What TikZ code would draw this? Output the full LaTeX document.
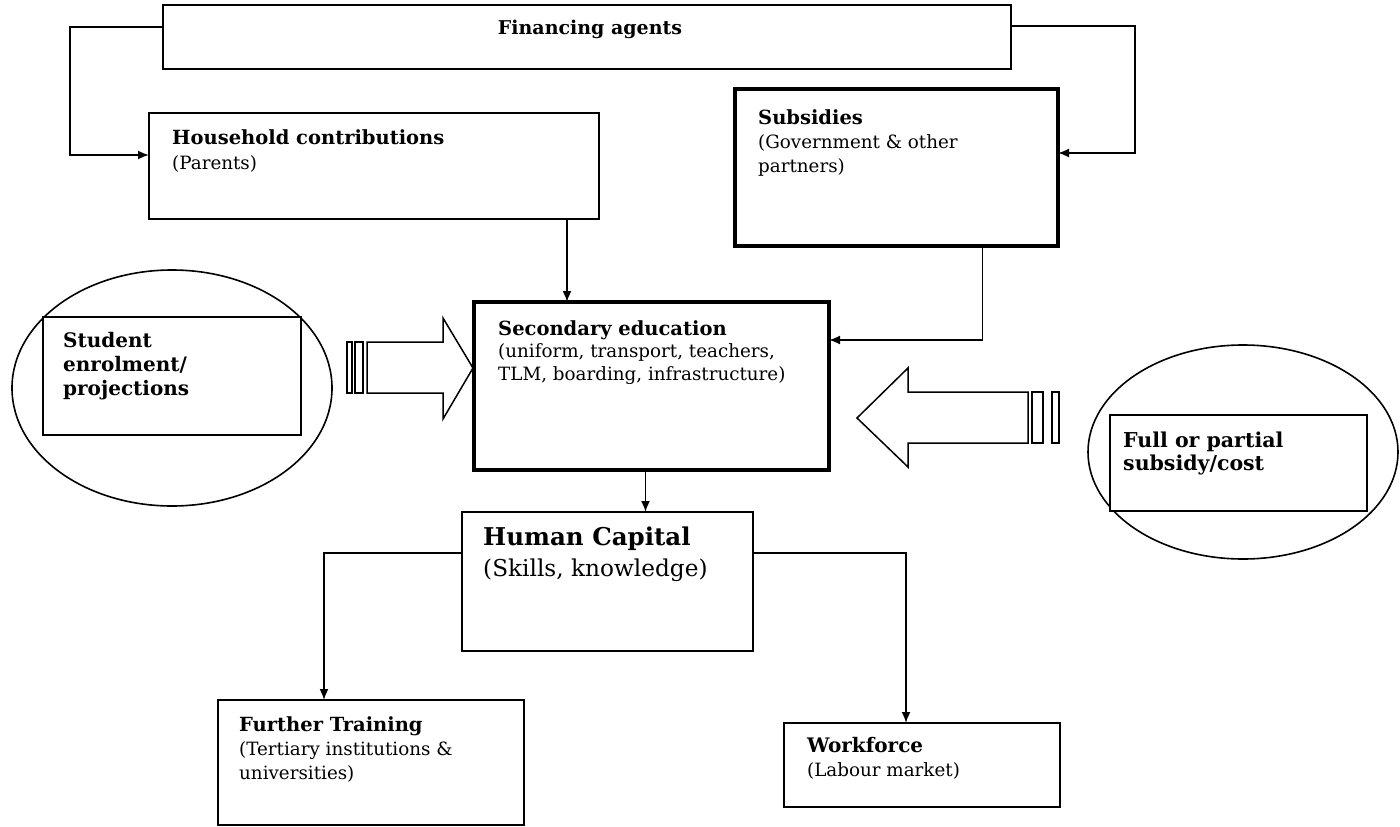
\documentclass[tikz,border=0pt]{standalone}
\usepackage{fontspec}
\setmainfont{DejaVu Serif}
\usetikzlibrary{arrows.meta,calc,shapes.geometric}
\begin{document}
\begin{tikzpicture}[x=1pt,y=-1pt,
  box/.style={draw=black, line width=1.7pt, fill=white, inner sep=0pt, outer sep=0pt, anchor=north west},
  thickbox/.style={box, line width=4.5pt},
  oval/.style={draw=black, line width=1.6pt, ellipse, inner sep=0pt},
  lbl/.style={anchor=north west, inner sep=0pt, align=left, font=\fontsize{18.3}{24}\selectfont},
  bt/.style={font=\fontsize{19}{24}\selectfont\bfseries},
  conn/.style={line width=1.7pt},
  arr/.style={conn, -{Latex[length=11pt,width=9pt]}},
  blockarrow/.style={line width=1.5pt, fill=white, line join=miter},
]
\useasboundingbox (0,0) rectangle (1400,827);

% ellipses behind
\node[oval, minimum width=320pt, minimum height=236pt] (eL) at (172,388) {};
\node[oval, minimum width=310pt, minimum height=214pt] (eR) at (1243,452) {};

% boxes
\node[box, minimum width=848pt, minimum height=64pt] (fin) at (163,5) {};
\node[box, minimum width=450pt, minimum height=106pt] (hh) at (149,113) {};
\node[thickbox, minimum width=323pt, minimum height=157pt] (sub) at (735,89) {};
\node[thickbox, minimum width=355pt, minimum height=168pt] (sec) at (474,302) {};
\node[box, minimum width=258pt, minimum height=118pt] (stud) at (43,317) {};
\node[box, minimum width=257pt, minimum height=96pt] (full) at (1110,415) {};
\node[box, minimum width=291pt, minimum height=139pt] (hc) at (462,512) {};
\node[box, minimum width=306pt, minimum height=125pt] (ft) at (218,700) {};
\node[box, minimum width=276pt, minimum height=84pt] (wf) at (784,723) {};

% texts
\node[anchor=base, inner sep=0pt, bt] (tfin) at (590,34) {Financing agents};
\node[lbl, font=\fontsize{18.3}{25.5}\selectfont] (thh) at (172,129) {{\bfseries\fontsize{19.5}{25.5}\selectfont Household contributions}\\(Parents)};
\node[lbl] (tsub) at (758,109) {{\bfseries\fontsize{19.5}{24}\selectfont Subsidies}\\(Government \& other\\partners)};
\node[lbl, font=\fontsize{18.3}{22.5}\selectfont] (tsec) at (498,320) {{\bfseries\fontsize{19.5}{22.5}\selectfont Secondary education}\\(uniform, transport, teachers,\\TLM, boarding, infrastructure)};
\node[lbl, font=\fontsize{20}{24}\selectfont\bfseries] (tstud) at (63,332) {Student\\enrolment/\\projections};
\node[lbl, font=\fontsize{20.5}{23}\selectfont\bfseries] (tfull) at (1123,432) {Full or partial\\subsidy/cost};
\node[lbl, font=\fontsize{23.2}{31}\selectfont] (thc) at (483,527) {{\bfseries\fontsize{24.5}{31}\selectfont Human Capital}\\(Skills, knowledge)};
\node[lbl] (tft) at (239,716) {{\bfseries\fontsize{19.5}{24}\selectfont Further Training}\\(Tertiary institutions \&\\universities)};
\node[lbl] (twf) at (807,737) {{\bfseries\fontsize{20}{24}\selectfont Workforce}\\(Labour market)};

% connectors
\draw[arr] ([yshift=-22pt]fin.north west) -- ++(-93,0) |- ([yshift=-42pt]hh.north west);
\draw[arr] ([yshift=-21pt]fin.north east) -- ++(124,0) |- ([yshift=-64pt]sub.north east);
\coordinate (h1) at ([xshift=193pt]hh.south);
\draw[arr] (h1) -- (h1 |- sec.north);
\draw[arr] ([xshift=86pt]sub.south) |- ([yshift=-38pt]sec.north east);
\coordinate (s1) at ([xshift=-6pt]sec.south);
\draw[arr] (s1) -- (s1 |- hc.north);
\draw[arr] ([yshift=-41pt]hc.north west) -| ([xshift=-47pt]ft.north);
\draw[arr] ([yshift=-41pt]hc.north east) -| ([xshift=-16pt]wf.north);

% block arrows
\draw[blockarrow] (367,342) -- (443,342) -- (443,318) -- (473,368) -- (443,419) -- (443,393) -- (367,393) -- cycle;
\draw[blockarrow] (347,342) rectangle (352,393);
\draw[blockarrow] (355,342) rectangle (363,393);
\draw[blockarrow] (1028,392) -- (908,392) -- (908,368) -- (857,418) -- (908,467) -- (908,443) -- (1028,443) -- cycle;
\draw[blockarrow] (1032,392) rectangle (1043,443);
\draw[blockarrow] (1052,392) rectangle (1059,443);
\end{tikzpicture}
\end{document}
